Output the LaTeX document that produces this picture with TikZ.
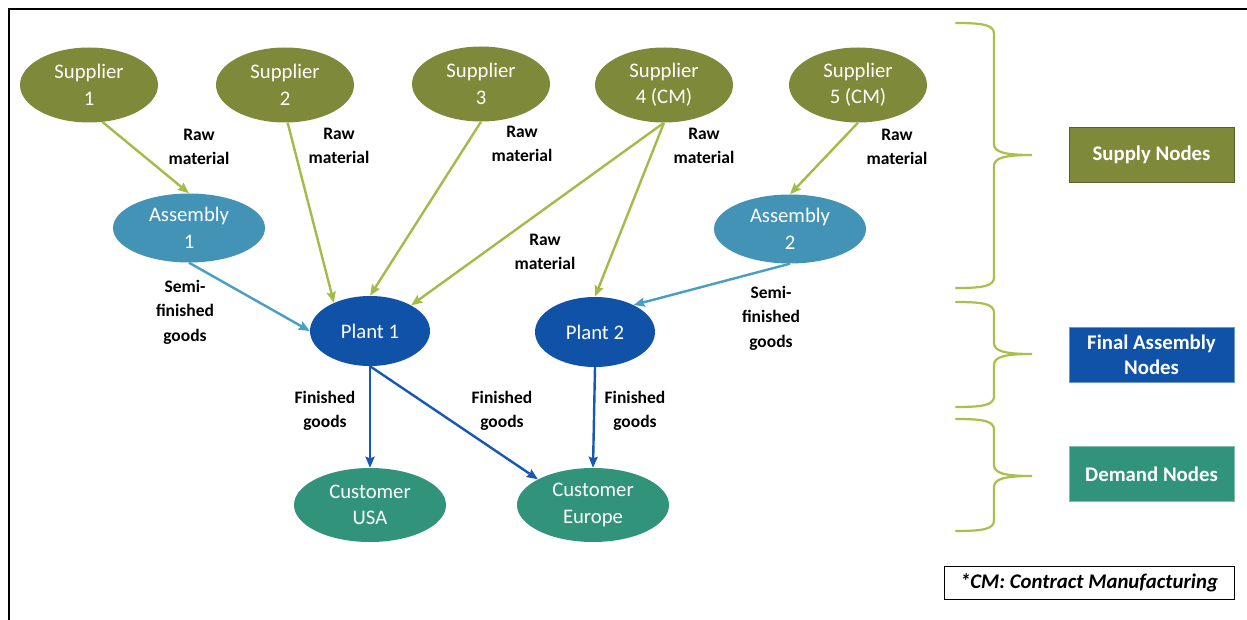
\documentclass[tikz,border=0pt]{standalone}
\usepackage{fontspec}
\setmainfont{Carlito}
\usetikzlibrary{shapes.geometric,arrows.meta}

\definecolor{supfill}{RGB}{127,137,58}
\definecolor{supline}{RGB}{163,188,72}
\definecolor{asmfill}{RGB}{66,147,182}
\definecolor{asmline}{RGB}{72,158,196}
\definecolor{plantfill}{RGB}{16,82,168}
\definecolor{plantline}{RGB}{24,88,178}
\definecolor{custfill}{RGB}{50,147,123}
\definecolor{bracecol}{RGB}{169,192,74}

\tikzset{
  oval/.style={ellipse, inner sep=0pt, align=center, text=white,
    font=\fontsize{20.7}{26.5}\selectfont},
  supnode/.style={oval, fill=supfill, minimum width=138pt, minimum height=75pt},
  asmnode/.style={oval, fill=asmfill, minimum width=152pt, minimum height=69pt},
  plantnode/.style={oval, fill=plantfill, minimum width=120pt, minimum height=70pt},
  custnode/.style={oval, fill=custfill, minimum width=152pt, minimum height=74pt},
  lbl/.style={align=center, inner sep=0pt,
    font=\fontsize{17.5}{24.5}\selectfont\bfseries},
  flow/.style={line width=2.4pt, -{Stealth[length=11pt,width=9pt,inset=1.5pt]}},
  rawflow/.style={flow, draw=supline},
  semiflow/.style={flow, draw=asmline},
  goodsflow/.style={flow, draw=plantline},
  legendbox/.style={minimum width=165pt, minimum height=55pt, inner sep=0pt,
    align=center, text=white, line width=0.8pt,
    font=\fontsize{20.8}{25}\selectfont\bfseries},
  bracepath/.style={draw=bracecol, line width=2.2pt, line cap=round}
}

\begin{document}
\begin{tikzpicture}[x=1pt,y=-1pt]
\useasboundingbox (0,0) rectangle (1247,620);
\fill[white] (0,0) rectangle (1247,620);
\draw[line width=2.2pt] (9,625) -- (9,9) -- (1252,9);

% suppliers
\node[supnode] (s1) at (89,85) {Supplier\\1};
\node[supnode] (s2) at (285,85) {Supplier\\2};
\node[supnode] (s3) at (481,84) {Supplier\\3};
\node[supnode] (s4) at (664,85) {Supplier\\4 (CM)};
\node[supnode] (s5) at (858,85) {Supplier\\5 (CM)};

% assembly sites
\node[asmnode] (a1) at (189,228) {Assembly\\1};
\node[asmnode] (a2) at (790,229) {Assembly\\2};

% plants
\node[plantnode] (p1) at (370,331) {Plant 1};
\node[plantnode] (p2) at (595,332) {Plant 2};

% customers
\node[custnode] (cu) at (370,505) {Customer\\USA};
\node[custnode] (ce) at (593,505) {Customer\\Europe};

% flows
\draw[rawflow] (s1.-70) -- (a1.north);
\draw[rawflow] (s2.-86) -- (p1.142);
\draw[rawflow] (s3.south) -- (p1.north);
\draw[rawflow] (s4.south) -- (p1.32);
\draw[rawflow] (s4.south) -- (p2.north);
\draw[rawflow] (s5.south) -- (a2.north);
\draw[semiflow] (a1.south) -- (p1.west);
\draw[semiflow] (a2.south) -- (p2.35);
\draw[goodsflow] (p1.south) -- (cu.north);
\draw[goodsflow] (p1.south) -- (ce.155);
\draw[goodsflow] (p2.south) -- (ce.north);

% flow labels
\node[lbl] (r1) at (199,147) {Raw\\material};
\node[lbl] (r2) at (339,146) {Raw\\material};
\node[lbl] (r3) at (522,144) {Raw\\material};
\node[lbl] (r4) at (704,146) {Raw\\material};
\node[lbl] (r5) at (897,147) {Raw\\material};
\node[lbl] (r6) at (545,252) {Raw\\material};
\node[lbl] (m1) at (185,312) {Semi-\\finished\\goods};
\node[lbl] (m2) at (771,318) {Semi-\\finished\\goods};
\node[lbl] (g1) at (325,411) {Finished\\goods};
\node[lbl] (g2) at (502,411) {Finished\\goods};
\node[lbl] (g3) at (635,411) {Finished\\goods};

% tier braces
\draw[bracepath] (956,23) .. controls (984,23) and (994,25) .. (994,34)
  -- (994,144) .. controls (994,152) and (1004,155) .. (1032,155)
  .. controls (1004,155) and (994,158) .. (994,166)
  -- (994,277) .. controls (994,286) and (984,288) .. (956,288);
\draw[bracepath] (956,302) .. controls (984,302) and (994,304) .. (994,313)
  -- (994,343) .. controls (994,351) and (1004,354) .. (1032,354)
  .. controls (1004,354) and (994,357) .. (994,365)
  -- (994,396) .. controls (994,405) and (984,407) .. (956,407);
\draw[bracepath] (956,419) .. controls (984,419) and (994,421) .. (994,430)
  -- (994,465) .. controls (994,473) and (1004,476) .. (1032,476)
  .. controls (1004,476) and (994,479) .. (994,487)
  -- (994,520) .. controls (994,529) and (984,531) .. (956,531);

% tier legend
\node[legendbox, fill=supfill, draw=supfill!70!black] (ls) at (1151.5,154.5) {Supply Nodes};
\node[legendbox, fill=plantfill, draw=plantfill!60!white] (lf) at (1151.5,354.5) {Final Assembly\\Nodes};
\node[legendbox, fill=custfill, draw=custfill!60!white] (ld) at (1151.5,474) {Demand Nodes};

% footnote
\node[draw, line width=0.8pt, minimum width=290pt, minimum height=33pt, inner sep=0pt,
  font=\fontsize{20.8}{25}\selectfont\bfseries\itshape] (fn) at (1089,582.5)
  {*CM: Contract Manufacturing};
\end{tikzpicture}
\end{document}
